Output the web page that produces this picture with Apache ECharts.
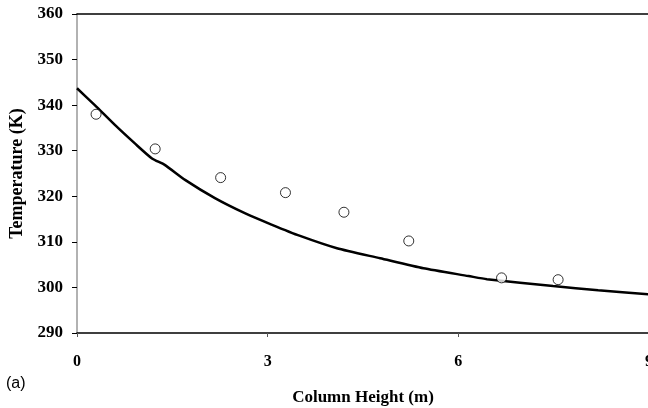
<!DOCTYPE html>
<html>
<head>
<meta charset="utf-8">
<script src="https://cdn.jsdelivr.net/npm/echarts@6/dist/echarts.min.js"></script>
<style>
html,body{margin:0;padding:0;background:#fff;}
#chart{width:648px;height:408px;}
</style>
</head>
<body>
<div id="chart"></div>
<script>
// Measured data (circles)
const measuredX = [0.30, 1.23, 2.26, 3.28, 4.20, 5.22, 6.68, 7.57];
const measuredT = [338.0, 330.4, 324.1, 320.8, 316.5, 310.2, 302.1, 301.7];
// Model curve (solid line)
const modelX = [0, 0.28, 0.60, 0.91, 1.18, 1.38, 1.70, 2.17, 2.64, 3.06, 3.51, 4.09, 4.77, 5.45, 6.16, 6.45, 7.49, 8.2, 9.0];
const modelT = [343.7, 340.0, 335.6, 331.6, 328.3, 326.9, 323.6, 319.6, 316.3, 313.8, 311.3, 308.6, 306.4, 304.2, 302.5, 301.8, 300.3, 299.4, 298.5];
// Axis settings
const xTicks = [0, 3, 6, 9];
const yMin = 290, yMax = 360, yStep = 10;
const xMin = 0, xMax = 9, xStep = 3;
const xTitle = 'Column Height (m)';
const yTitle = 'Temperature (K)';
const panelLabel = '(a)';

const chart = echarts.init(document.getElementById('chart'), null, {renderer: 'canvas'});
const serif = '"Liberation Serif", "Times New Roman", serif';
chart.setOption({
  animation: false,
  backgroundColor: '#fff',
  grid: {left: 77, top: 14, right: -1, bottom: 75, containLabel: false, outerBoundsMode: 'none'},
  graphic: [{
    type: 'text', left: 6, top: 376,
    style: {text: panelLabel, font: '16px "Liberation Sans", Arial, sans-serif', fill: '#000'}
  }],
  xAxis: [{
    type: 'value', min: xMin, max: xMax, interval: xStep, position: 'bottom',
    name: xTitle, nameLocation: 'middle', nameGap: 56,
    nameTextStyle: {fontFamily: serif, fontSize: 17, fontWeight: 'bold', color: '#000'},
    axisLine: {show: true, onZero: false, lineStyle: {color: '#000', width: 1.5}},
    axisTick: {show: true, inside: false, length: 4, lineStyle: {color: '#555'}},
    axisLabel: {margin: 21, fontFamily: serif, fontSize: 16, fontWeight: 'bold', color: '#000',
      formatter: v => xTicks.includes(v) ? String(v) : ''},
    splitLine: {show: false}
  }, {
    type: 'value', min: xMin, max: xMax, position: 'top',
    axisLine: {show: true, onZero: false, lineStyle: {color: '#000', width: 1.5}},
    axisTick: {show: false}, axisLabel: {show: false}, splitLine: {show: false}
  }],
  yAxis: {
    type: 'value', min: yMin, max: yMax, interval: yStep,
    name: yTitle, nameLocation: 'middle', nameGap: 47,
    nameTextStyle: {fontFamily: serif, fontSize: 18, fontWeight: 'bold', color: '#000'},
    axisLine: {show: true, onZero: false, lineStyle: {color: '#999', width: 1.5}},
    axisTick: {show: true, length: 5, lineStyle: {color: '#000'}},
    axisLabel: {margin: 14, fontFamily: serif, fontSize: 17, fontWeight: 'bold', color: '#000'},
    splitLine: {show: false}
  },
  series: [{
    type: 'line',
    data: modelX.map((x, i) => [x, modelT[i]]),
    showSymbol: false, smooth: 0.2,
    lineStyle: {color: '#000', width: 2.5},
    z: 2
  }, {
    type: 'scatter',
    data: measuredX.map((x, i) => [x, measuredT[i]]),
    symbol: 'circle', symbolSize: 10,
    itemStyle: {color: '#fff', borderColor: '#000', borderWidth: 1},
    z: 3
  }]
});
</script>
</body>
</html>
